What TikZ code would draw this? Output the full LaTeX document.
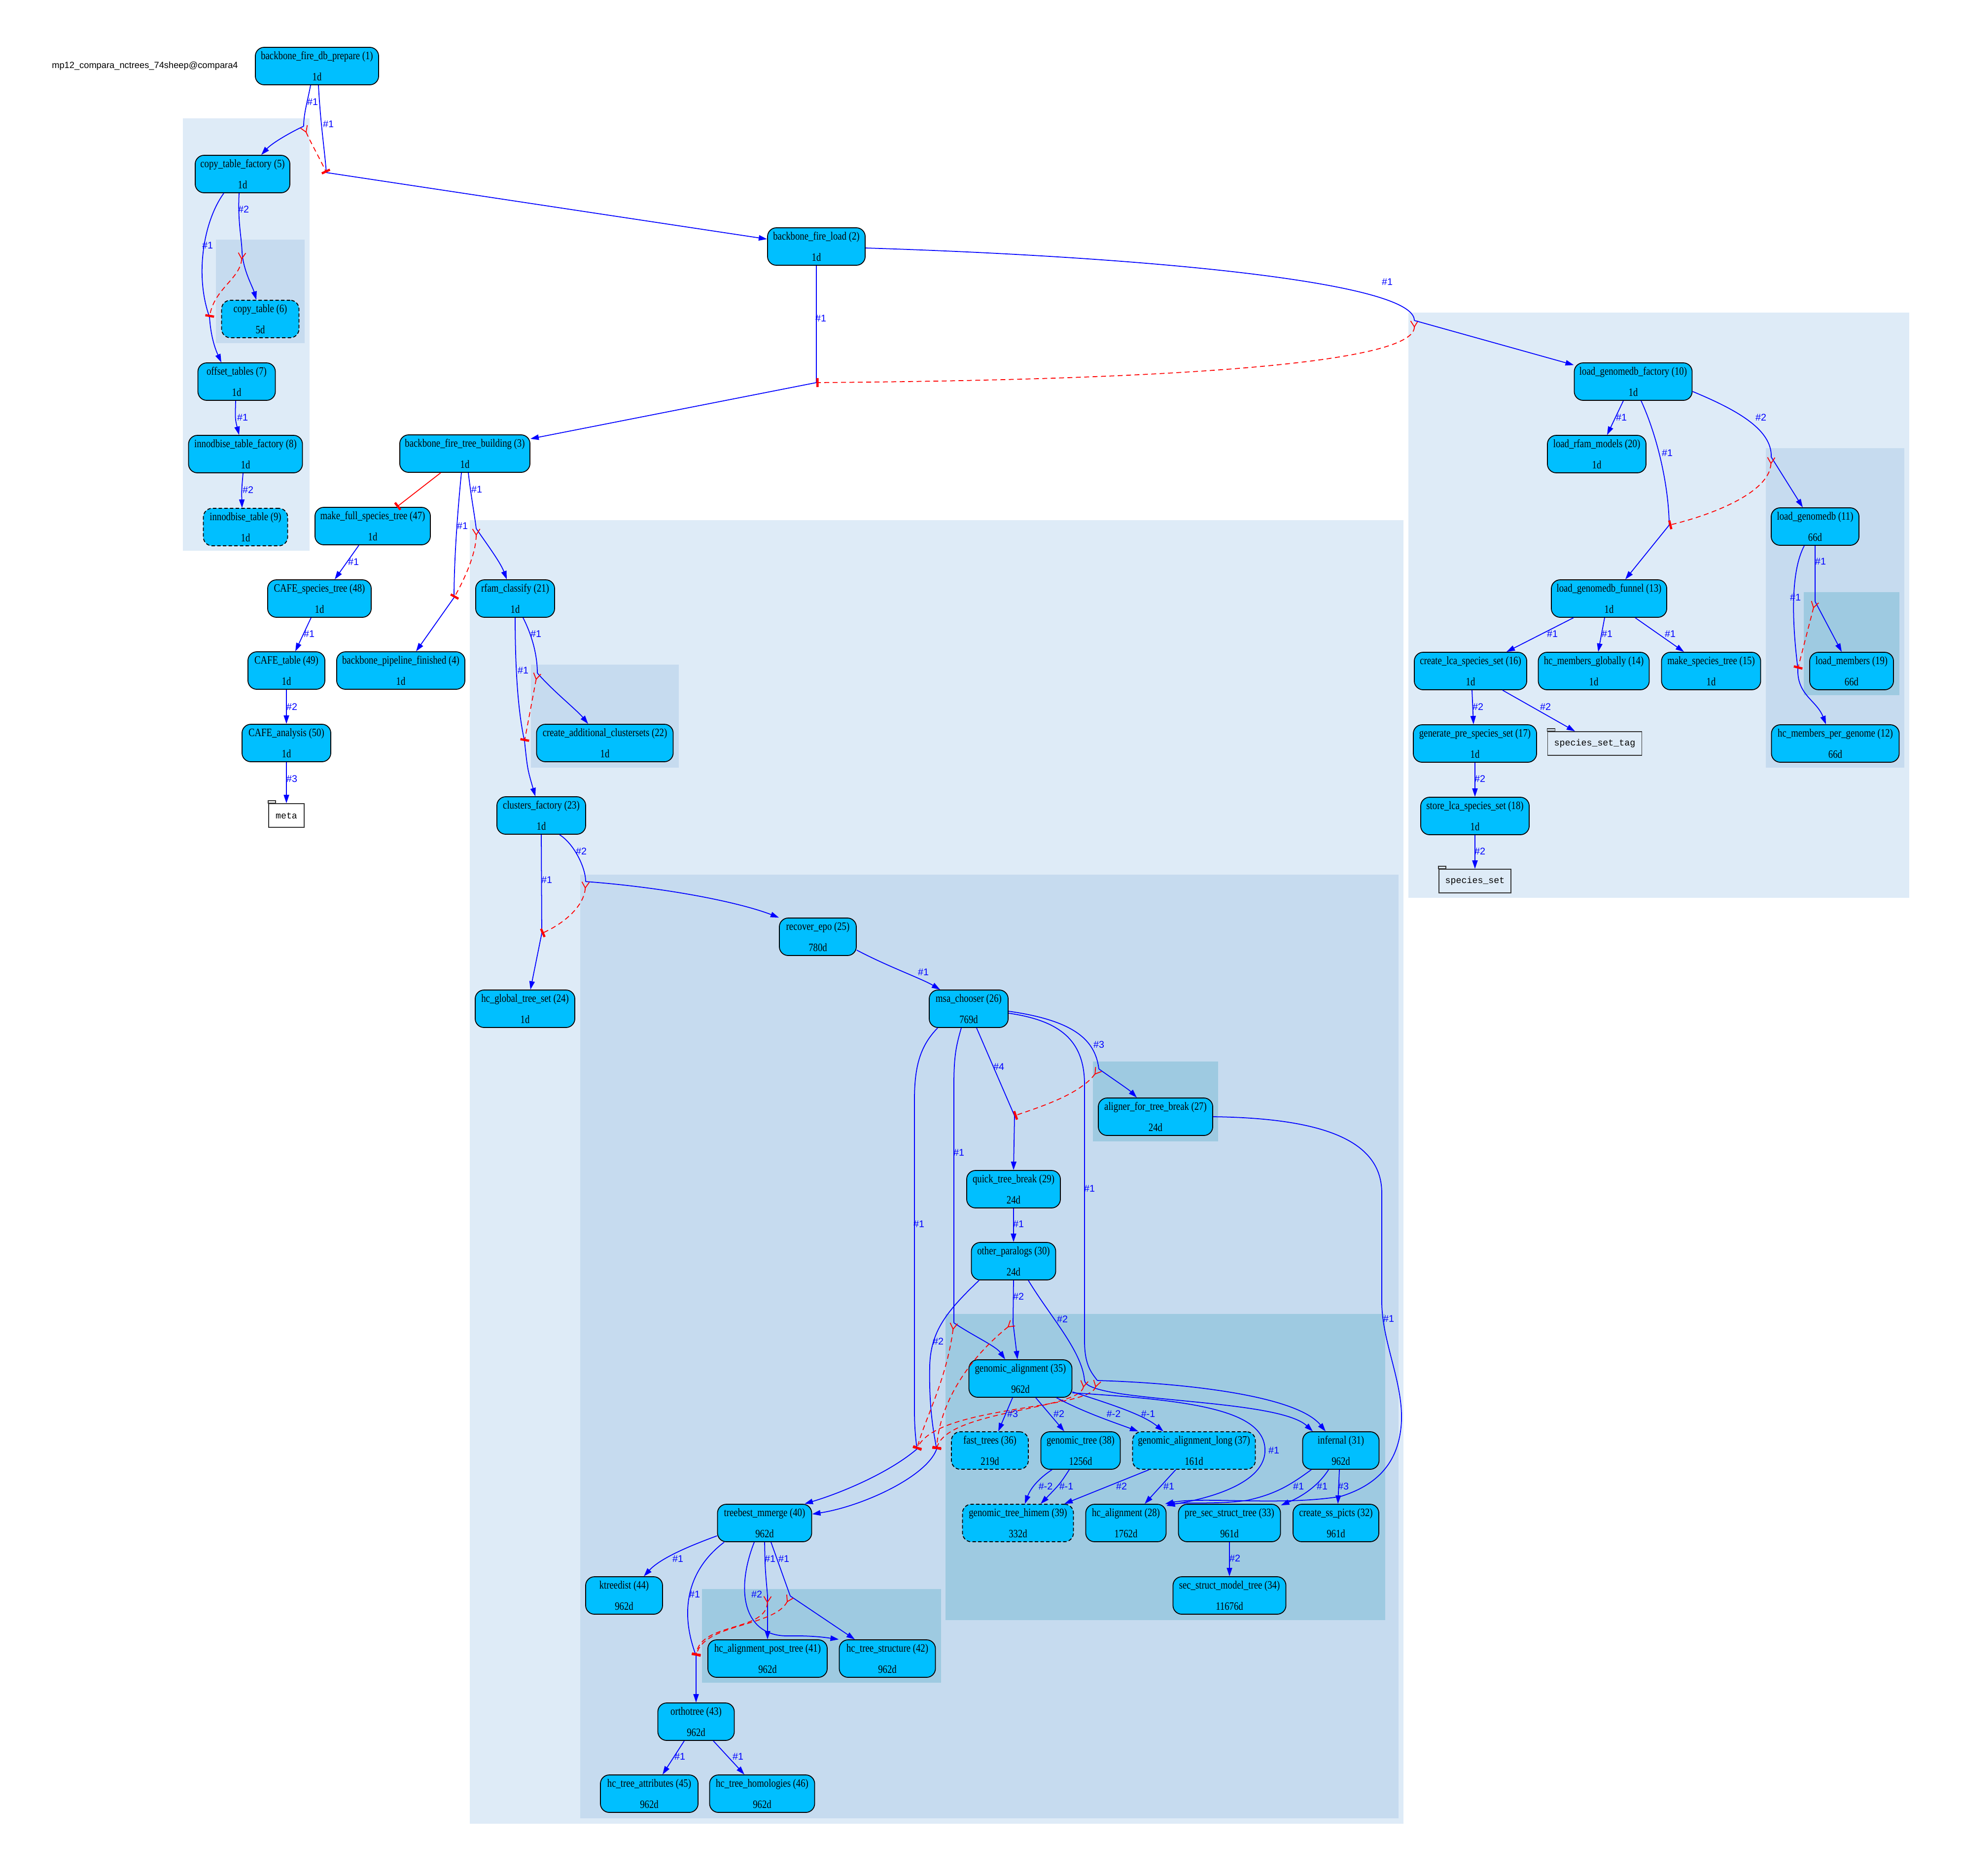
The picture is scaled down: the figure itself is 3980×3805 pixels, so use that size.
\documentclass[tikz,border=0pt]{standalone}
\usepackage{fontspec}
\setmainfont{Liberation Serif}
\newfontfamily\taskfamily[FakeStretch=0.82]{Liberation Serif}
\newfontfamily\labelfamily{Liberation Sans}
\newfontfamily\tablefamily{Liberation Mono}
\usetikzlibrary{arrows.meta}
\definecolor{taskfill}{HTML}{00BFFF}
\definecolor{grpA}{HTML}{DEEBF7}
\definecolor{grpB}{HTML}{C6DBEF}
\definecolor{grpC}{HTML}{9ECAE1}
\definecolor{flowblue}{HTML}{0000FF}
\definecolor{semared}{HTML}{FF0000}
\definecolor{tableedge}{HTML}{333333}
\newcommand{\taskfont}{\taskfamily\fontsize{6.5}{6.6}\selectfont}
\newcommand{\lblfont}{\labelfamily\fontsize{5.6}{6.4}\selectfont}
\newcommand{\ttlfont}{\labelfamily\fontsize{5.2}{6}\selectfont}
\newcommand{\tblfont}{\tablefamily\fontsize{5.2}{6}\selectfont}
\newcommand{\tx}[2]{#1\\[5.6pt]#2}

\begin{document}
\begin{tikzpicture}[x=0.01cm, y=-0.01cm,
  task/.style={draw=black, line width=0.5pt, fill=taskfill, rounded corners=0.18cm,
    minimum height=0.76cm, inner sep=0pt, align=center, font=\taskfont},
  dtask/.style={task, dash pattern=on 0.07cm off 0.045cm},
  tblbox/.style={draw=tableedge, line width=0.45pt, minimum height=0.48cm, inner sep=0pt, font=\tblfont},
  tabtop/.style={draw=tableedge, line width=0.45pt},
  flow/.style={draw=flowblue, line width=0.5pt},
  flowto/.style={flow, -{Triangle[length=0.17cm, width=0.11cm]}},
  sema/.style={draw=semared, line width=0.5pt, dash pattern=on 0.1cm off 0.07cm,
    {Straight Barb[reversed, length=0.12cm, width=0.15cm, line width=0.5pt]}-{Bar[width=0.18cm, line width=1.3pt]}},
  waitfor/.style={draw=semared, line width=0.5pt, -{Bar[width=0.18cm, line width=1.3pt]}},
  lbl/.style={font=\lblfont, text=flowblue, inner sep=0pt},
  heading/.style={font=\ttlfont, inner sep=0pt}
]
\fill[white] (0,0) rectangle (3980,3805);
\useasboundingbox (0,0) rectangle (3980,3805);

% analysis groups
\fill[grpA] (371,240) rectangle (628,1117);
\fill[grpB] (438,486) rectangle (618,696);
\fill[grpA] (2857,634) rectangle (3873,1821);
\fill[grpB] (3582,909) rectangle (3863,1557);
\fill[grpC] (3659,1201) rectangle (3853,1410);
\fill[grpA] (953,1055) rectangle (2847,3699);
\fill[grpB] (1077,1348) rectangle (1377,1557);
\fill[grpB] (1177,1774) rectangle (2837,3688);
\fill[grpC] (2217,2153) rectangle (2471,2315);
\fill[grpC] (1918,2665) rectangle (2810,3286);
\fill[grpC] (1424,3223) rectangle (1909,3413);

% analyses
\node[heading] (title) at (294,134) {mp12\_compara\_nctrees\_74sheep@compara4};
\node[task, minimum width=2.50cm] (n1) at (643,134) {\tx{backbone\_fire\_db\_prepare (1)}{1d}};
\node[task, minimum width=1.98cm] (n2) at (1656,500) {\tx{backbone\_fire\_load (2)}{1d}};
\node[task, minimum width=2.64cm] (n3) at (943,920) {\tx{backbone\_fire\_tree\_building (3)}{1d}};
\node[task, minimum width=2.60cm] (n4) at (813,1360) {\tx{backbone\_pipeline\_finished (4)}{1d}};
\node[task, minimum width=1.92cm] (n5) at (492,353) {\tx{copy\_table\_factory (5)}{1d}};
\node[dtask, minimum width=1.57cm] (n6) at (528,647) {\tx{copy\_table (6)}{5d}};
\node[task, minimum width=1.57cm] (n7) at (480,774) {\tx{offset\_tables (7)}{1d}};
\node[task, minimum width=2.31cm] (n8) at (498,921) {\tx{innodbise\_table\_factory (8)}{1d}};
\node[dtask, minimum width=1.71cm] (n9) at (498,1069) {\tx{innodbise\_table (9)}{1d}};
\node[task, minimum width=2.39cm] (n10) at (3313,774) {\tx{load\_genomedb\_factory (10)}{1d}};
\node[task, minimum width=1.78cm] (n11) at (3682,1068) {\tx{load\_genomedb (11)}{66d}};
\node[task, minimum width=2.59cm] (n12) at (3723,1508) {\tx{hc\_members\_per\_genome (12)}{66d}};
\node[task, minimum width=2.34cm] (n13) at (3264,1214) {\tx{load\_genomedb\_funnel (13)}{1d}};
\node[task, minimum width=2.25cm] (n14) at (3233,1361) {\tx{hc\_members\_globally (14)}{1d}};
\node[task, minimum width=2.01cm] (n15) at (3471,1361) {\tx{make\_species\_tree (15)}{1d}};
\node[task, minimum width=2.28cm] (n16) at (2983,1361) {\tx{create\_lca\_species\_set (16)}{1d}};
\node[task, minimum width=2.50cm] (n17) at (2992,1508) {\tx{generate\_pre\_species\_set (17)}{1d}};
\node[task, minimum width=2.20cm] (n18) at (2992,1655) {\tx{store\_lca\_species\_set (18)}{1d}};
\node[task, minimum width=1.70cm] (n19) at (3756,1361) {\tx{load\_members (19)}{66d}};
\node[task, minimum width=2.00cm] (n20) at (3239,921) {\tx{load\_rfam\_models (20)}{1d}};
\node[task, minimum width=1.60cm] (n21) at (1045,1214) {\tx{rfam\_classify (21)}{1d}};
\node[task, minimum width=2.77cm] (n22) at (1227,1507) {\tx{create\_additional\_clustersets (22)}{1d}};
\node[task, minimum width=1.80cm] (n23) at (1098,1654) {\tx{clusters\_factory (23)}{1d}};
\node[task, minimum width=2.02cm] (n24) at (1065,2046) {\tx{hc\_global\_tree\_set (24)}{1d}};
\node[task, minimum width=1.56cm] (n25) at (1659,1900) {\tx{recover\_epo (25)}{780d}};
\node[task, minimum width=1.60cm] (n26) at (1965,2046) {\tx{msa\_chooser (26)}{769d}};
\node[task, minimum width=2.32cm] (n27) at (2344,2265) {\tx{aligner\_for\_tree\_break (27)}{24d}};
\node[task, minimum width=1.63cm] (n28) at (2284,3089) {\tx{hc\_alignment (28)}{1762d}};
\node[task, minimum width=1.90cm] (n29) at (2056,2412) {\tx{quick\_tree\_break (29)}{24d}};
\node[task, minimum width=1.71cm] (n30) at (2056,2558) {\tx{other\_paralogs (30)}{24d}};
\node[task, minimum width=1.55cm] (n31) at (2720,2942) {\tx{infernal (31)}{962d}};
\node[task, minimum width=1.74cm] (n32) at (2710,3089) {\tx{create\_ss\_picts (32)}{961d}};
\node[task, minimum width=2.07cm] (n33) at (2494,3089) {\tx{pre\_sec\_struct\_tree (33)}{961d}};
\node[task, minimum width=2.29cm] (n34) at (2494,3236) {\tx{sec\_struct\_model\_tree (34)}{11676d}};
\node[task, minimum width=2.09cm] (n35) at (2070,2796) {\tx{genomic\_alignment (35)}{962d}};
\node[dtask, minimum width=1.56cm] (n36) at (2008,2942) {\tx{fast\_trees (36)}{219d}};
\node[dtask, minimum width=2.49cm] (n37) at (2422,2942) {\tx{genomic\_alignment\_long (37)}{161d}};
\node[task, minimum width=1.61cm] (n38) at (2192,2942) {\tx{genomic\_tree (38)}{1256d}};
\node[dtask, minimum width=2.25cm] (n39) at (2065,3089) {\tx{genomic\_tree\_himem (39)}{332d}};
\node[task, minimum width=1.91cm] (n40) at (1551,3089) {\tx{treebest\_mmerge (40)}{962d}};
\node[task, minimum width=2.42cm] (n41) at (1557,3364) {\tx{hc\_alignment\_post\_tree (41)}{962d}};
\node[task, minimum width=1.95cm] (n42) at (1800,3364) {\tx{hc\_tree\_structure (42)}{962d}};
\node[task, minimum width=1.55cm] (n43) at (1412,3492) {\tx{orthotree (43)}{962d}};
\node[task, minimum width=1.56cm] (n44) at (1266,3236) {\tx{ktreedist (44)}{962d}};
\node[task, minimum width=1.98cm] (n45) at (1317,3638) {\tx{hc\_tree\_attributes (45)}{962d}};
\node[task, minimum width=2.13cm] (n46) at (1546,3638) {\tx{hc\_tree\_homologies (46)}{962d}};
\node[task, minimum width=2.34cm] (n47) at (756,1067) {\tx{make\_full\_species\_tree (47)}{1d}};
\node[task, minimum width=2.10cm] (n48) at (648,1214) {\tx{CAFE\_species\_tree (48)}{1d}};
\node[task, minimum width=1.56cm] (n49) at (581,1360) {\tx{CAFE\_table (49)}{1d}};
\node[task, minimum width=1.80cm] (n50) at (581,1507) {\tx{CAFE\_analysis (50)}{1d}};

% tables
\node[tblbox, minimum width=0.72cm] (meta) at (581,1654) {meta};
\node[tblbox, minimum width=1.91cm] (sst) at (3235,1508) {species\_set\_tag};
\node[tblbox, minimum width=1.46cm] (ss) at (2992,1787) {species\_set};
\draw[tabtop] (meta.north west) rectangle ++(0.15cm,0.055cm);
\draw[tabtop] (sst.north west) rectangle ++(0.16cm,0.055cm);
\draw[tabtop] (ss.north west) rectangle ++(0.15cm,0.055cm);

% fan / funnel junctions
\coordinate (p1a) at (616,256);
\coordinate (p1b) at (662,350);
\coordinate (p5a) at (491,512);
\coordinate (p5b) at (425,643);
\coordinate (p2a) at (2869,650);
\coordinate (p2b) at (1656,776);
\coordinate (p3a) at (966,1072);
\coordinate (p3b) at (921,1212);
\coordinate (p10a) at (3386,1065);
\coordinate (p10b) at (3593,927);
\coordinate (p11a) at (3682,1220);
\coordinate (p11b) at (3647,1356);
\coordinate (p21a) at (1090,1365);
\coordinate (p21b) at (1064,1503);
\coordinate (p23a) at (1188,1788);
\coordinate (p23b) at (1099,1893);
\coordinate (p26b) at (2229,2168);
\coordinate (p26c) at (2058,2263);
\coordinate (p26d) at (1935,2683);
\coordinate (p26e) at (2226,2800);
\coordinate (p30a) at (2055,2683);
\coordinate (p30b) at (2200,2800);
\coordinate (p40a) at (1860,2939);
\coordinate (p40b) at (1900,2939);
\coordinate (p40c) at (1412,3358);
\coordinate (p40d) at (1557,3237);
\coordinate (p40e) at (1603,3237);

% backbone and table copying
\draw[flow] ([shift={(-13,0)}]n1.south) .. controls (624,205) and (616,230) .. (p1a);
\draw[flow] ([shift={(3,0)}]n1.south) .. controls (650,250) and (658,300) .. (p1b);
\draw[flowto] (p1a) .. controls (590,268) and (552,290) .. ([shift={(38,0)}]n5.north);
\draw[flowto] (p1b) -- (n2);
\draw[sema] (p1a) .. controls (628,285) and (648,320) .. (p1b);
\node[lbl] (la1) at (634,207) {\#1};
\node[lbl] (la2) at (666,252) {\#1};

\draw[flow] ([shift={(-7,0)}]n5.south) .. controls (482,450) and (490,480) .. (p5a);
\draw[flowto] (p5a) .. controls (494,550) and (512,580) .. ([shift={(-8,0)}]n6.north);
\draw[flow] ([shift={(-38,0)}]n5.south) .. controls (412,450) and (395,560) .. (p5b);
\draw[flowto] (p5b) .. controls (428,690) and (440,715) .. ([shift={(-31,0)}]n7.north);
\draw[sema] (p5a) .. controls (488,565) and (435,585) .. (p5b);
\node[lbl] (la3) at (494,425) {\#2};
\node[lbl] (la4) at (421,498) {\#1};
\draw[flowto] ([shift={(-2,0)}]n7.south) .. controls (477,850) .. ([shift={(-13,0)}]n8.north);
\node[lbl] (la5) at (492,847) {\#1};
\draw[flowto] ([shift={(-5,0)}]n8.south) .. controls (490,995) .. ([shift={(-7,0)}]n9.north);
\node[lbl] (la6) at (503,994) {\#2};

\draw[flow] ([shift={(0,3)}]n2.east) .. controls (2300,520) and (2870,570) .. (p2a);
\node[lbl] (la7) at (2814,572) {\#1};
\draw[flow] (n2.south) -- (p2b);
\node[lbl] (la8) at (1665,646) {\#1};
\draw[flowto] (p2b) -- ([shift={(0,-30)}]n3.east);
\draw[sema] (p2a) .. controls (2870,750) and (2200,772) .. (p2b);
\draw[flowto] (p2a) -- (n10);

\draw[waitfor] ([shift={(-49,0)}]n3.south) -- ([shift={(49,0)}]n47.north);
\draw[flow] ([shift={(7,0)}]n3.south) .. controls (956,1010) and (962,1040) .. (p3a);
\node[lbl] (la9) at (967,993) {\#1};
\draw[flow] ([shift={(-7,0)}]n3.south) .. controls (926,1060) and (921,1150) .. (p3b);
\node[lbl] (la10) at (938,1067) {\#1};
\draw[flowto] (p3a) .. controls (985,1100) and (1015,1140) .. ([shift={(-17,0)}]n21.north);
\draw[flowto] (p3b) -- ([shift={(31,0)}]n4.north);
\draw[sema] (p3a) .. controls (966,1120) and (945,1170) .. (p3b);

\draw[flowto] ([shift={(-28,0)}]n47.south) -- ([shift={(31,0)}]n48.north);
\node[lbl] (la11) at (717,1140) {\#1};
\draw[flowto] ([shift={(-17,0)}]n48.south) -- ([shift={(18,0)}]n49.north);
\node[lbl] (la12) at (627,1286) {\#1};
\draw[flowto] (n49.south) -- (n50.north);
\node[lbl] (la13) at (592,1434) {\#2};
\draw[flowto] (n50.south) -- (meta.north);
\node[lbl] (la14) at (592,1580) {\#3};

% genome loading
\draw[flowto] ([shift={(-20,0)}]n10.south) -- ([shift={(21,0)}]n20.north);
\node[lbl] (la15) at (3289,847) {\#1};
\draw[flow] ([shift={(16,0)}]n10.south) .. controls (3360,880) and (3385,980) .. (p10a);
\node[lbl] (la16) at (3382,919) {\#1};
\draw[flowto] (p10a) -- ([shift={(33,0)}]n13.north);
\draw[flow] ([shift={(0,20)}]n10.east) .. controls (3520,830) and (3595,870) .. (p10b);
\node[lbl] (la17) at (3572,847) {\#2};
\draw[flowto] (p10b) -- ([shift={(-25,0)}]n11.north);
\draw[sema] (p10b) .. controls (3590,1000) and (3470,1045) .. (p10a);

\draw[flow] (n11.south) -- (p11a);
\node[lbl] (la18) at (3693,1139) {\#1};
\draw[flowto] (p11a) -- ([shift={(-20,0)}]n19.north);
\draw[flow] ([shift={(-22,0)}]n11.south) .. controls (3632,1160) and (3635,1260) .. (p11b);
\node[lbl] (la19) at (3642,1212) {\#1};
\draw[flowto] (p11b) .. controls (3645,1410) and (3685,1420) .. ([shift={(-19,0)}]n12.north);
\draw[sema] (p11a) -- (p11b);

\draw[flowto] ([shift={(-72,0)}]n13.south) -- ([shift={(73,0)}]n16.north);
\node[lbl] (la20) at (3149,1286) {\#1};
\draw[flowto] ([shift={(-9,0)}]n13.south) -- ([shift={(9,0)}]n14.north);
\node[lbl] (la21) at (3260,1286) {\#1};
\draw[flowto] ([shift={(53,0)}]n13.south) -- ([shift={(-55,0)}]n15.north);
\node[lbl] (la22) at (3388,1286) {\#1};
\draw[flowto] ([shift={(3,0)}]n16.south) -- ([shift={(-3,0)}]n17.north);
\node[lbl] (la23) at (2998,1434) {\#2};
\draw[flowto] ([shift={(65,0)}]n16.south) -- ([shift={(-40,0)}]sst.north);
\node[lbl] (la24) at (3135,1434) {\#2};
\draw[flowto] (n17.south) -- (n18.north);
\node[lbl] (la25) at (3002,1580) {\#2};
\draw[flowto] (n18.south) -- (ss.north);
\node[lbl] (la26) at (3002,1727) {\#2};

% clustering
\draw[flow] ([shift={(16,0)}]n21.south) .. controls (1080,1290) and (1090,1330) .. (p21a);
\node[lbl] (la27) at (1087,1286) {\#1};
\draw[flowto] (p21a) .. controls (1120,1400) and (1170,1440) .. ([shift={(-34,0)}]n22.north);
\draw[flow] (n21.south) .. controls (1045,1350) and (1050,1440) .. (p21b);
\node[lbl] (la28) at (1061,1360) {\#1};
\draw[flowto] (p21b) .. controls (1070,1560) .. ([shift={(-12,0)}]n23.north);
\draw[sema] (p21a) -- (p21b);

\draw[flow] ([shift={(37,0)}]n23.south) .. controls (1165,1712) and (1188,1760) .. (p23a);
\node[lbl] (la29) at (1179,1727) {\#2};
\draw[flow] (n23.south) -- (p23b);
\node[lbl] (la30) at (1109,1785) {\#1};
\draw[flowto] (p23b) -- ([shift={(11,0)}]n24.north);
\draw[sema] (p23a) .. controls (1185,1840) and (1140,1875) .. (p23b);
\draw[flowto] (p23a) .. controls (1350,1800) and (1500,1830) .. (n25.north west);

% tree building
\draw[flowto] ([shift={(0,27)}]n25.east) .. controls (1800,1960) and (1870,1985) .. ([shift={(-58,0)}]n26.north);
\node[lbl] (la31) at (1873,1972) {\#1};
\draw[flow] ([shift={(-63,0)}]n26.south) .. controls (1868,2120) and (1855,2160) .. (1855,2230)
  -- (1855,2860) .. controls (1855,2900) and (1858,2920) .. (p40a);
\node[lbl] (la32) at (1864,2483) {\#1};
\draw[flow] ([shift={(-15,0)}]n26.south) .. controls (1940,2120) and (1935,2140) .. (1935,2200) -- (p26d);
\node[lbl] (la33) at (1945,2338) {\#1};
\draw[flow] ([shift={(16,0)}]n26.south) -- (p26c);
\node[lbl] (la34) at (2026,2164) {\#4};
\draw[flowto] (p26c) -- (n29.north);
\draw[flow] ([shift={(0,9)}]n26.east) .. controls (2150,2070) and (2200,2110) .. (2200,2200)
  -- (2200,2720) .. controls (2200,2770) and (2215,2785) .. (p26e);
\node[lbl] (la35) at (2210,2411) {\#1};
\draw[flow] ([shift={(0,5)}]n26.east) .. controls (2180,2070) and (2222,2110) .. (p26b);
\node[lbl] (la36) at (2229,2119) {\#3};
\draw[flowto] (p26b) .. controls (2260,2190) and (2290,2210) .. ([shift={(-38,0)}]n27.north);
\draw[sema] (p26b) .. controls (2190,2220) and (2110,2245) .. (p26c);

\draw[flowto] (n27.east) .. controls (2700,2268) and (2803,2320) .. (2803,2420)
  -- (2803,2640) .. controls (2803,2720) and (2845,2800) .. (2843,2880)
  .. controls (2840,2960) and (2800,3010) .. (2720,3035)
  .. controls (2600,3055) and (2440,3035) .. ([shift={(-3,0)}]n28.north east);
\node[lbl] (la37) at (2817,2675) {\#1};

\draw[flowto] (n29.south) -- (n30.north);
\node[lbl] (la38) at (2066,2483) {\#1};
\draw[flow] ([shift={(-70,0)}]n30.south) .. controls (1920,2660) and (1888,2700) .. (1886,2770)
  .. controls (1884,2860) and (1895,2910) .. (p40b);
\node[lbl] (la39) at (1903,2721) {\#2};
\draw[flow] (n30.south) -- (p30a);
\node[lbl] (la40) at (2066,2630) {\#2};
\draw[flow] ([shift={(30,0)}]n30.south) .. controls (2130,2670) and (2195,2740) .. (p30b);
\node[lbl] (la41) at (2155,2676) {\#2};

\draw[flowto] (p30a) -- ([shift={(-6,0)}]n35.north);
\draw[flowto] (p26d) .. controls (1975,2710) and (2020,2730) .. ([shift={(-31,0)}]n35.north);
\draw[flowto] (p26e) .. controls (2400,2805) and (2630,2830) .. ([shift={(-31,0)}]n31.north);
\draw[flowto] (p30b) .. controls (2205,2845) and (2590,2835) .. ([shift={(-57,0)}]n31.north);

\draw[sema] (p26d) .. controls (1920,2800) and (1875,2880) .. (p40a);
\draw[sema] (p30a) .. controls (1960,2760) and (1905,2850) .. (p40b);
\draw[sema] (p26e) .. controls (2210,2860) and (1900,2850) .. (p40a);
\draw[sema] (p30b) .. controls (2190,2860) and (1920,2860) .. (p40b);

% alignment group
\draw[flowto] ([shift={(0,29)}]n35.east) .. controls (2420,2840) and (2570,2860) .. (2566,2945)
  .. controls (2562,3010) and (2450,3040) .. ([shift={(0,3)}]n28.north east);
\node[lbl] (la42) at (2584,2942) {\#1};
\draw[flowto] ([shift={(-16,0)}]n35.south) -- ([shift={(17,0)}]n36.north);
\node[lbl] (la43) at (2054,2868) {\#3};
\draw[flowto] ([shift={(31,0)}]n35.south) -- ([shift={(-33,0)}]n38.north);
\node[lbl] (la44) at (2148,2868) {\#2};
\draw[flowto] ([shift={(73,0)}]n35.south) .. controls (2200,2865) and (2260,2885) .. ([shift={(-113,0)}]n37.north);
\node[lbl] (la45) at (2259,2868) {\#-2};
\draw[flowto] ([shift={(0,27)}]n35.east) .. controls (2260,2850) and (2320,2870) .. ([shift={(-62,0)}]n37.north);
\node[lbl] (la46) at (2329,2868) {\#-1};
\draw[flowto] ([shift={(-58,0)}]n38.south) .. controls (2105,3000) and (2090,3020) .. ([shift={(14,0)}]n39.north);
\node[lbl] (la47) at (2121,3015) {\#-2};
\draw[flowto] ([shift={(-23,0)}]n38.south) .. controls (2150,3010) .. ([shift={(46,0)}]n39.north);
\node[lbl] (la48) at (2163,3015) {\#-1};
\draw[flowto] ([shift={(-91,0)}]n37.south) -- ([shift={(94,0)}]n39.north);
\node[lbl] (la49) at (2275,3015) {\#2};
\draw[flowto] ([shift={(-37,0)}]n37.south) -- ([shift={(38,0)}]n28.north);
\node[lbl] (la50) at (2371,3015) {\#1};
\draw[flowto] ([shift={(-60,0)}]n31.south) .. controls (2620,3010) and (2590,3030) .. (2530,3043)
  .. controls (2470,3052) and (2400,3046) .. ([shift={(0,4)}]n28.north east);
\node[lbl] (la51) at (2634,3015) {\#1};
\draw[flowto] ([shift={(-25,0)}]n31.south) .. controls (2670,3020) and (2630,3040) .. ([shift={(0,3)}]n33.north east);
\node[lbl] (la52) at (2682,3015) {\#1};
\draw[flowto] ([shift={(-3,0)}]n31.south) -- ([shift={(4,0)}]n32.north);
\node[lbl] (la53) at (2725,3015) {\#3};
\draw[flowto] (n33.south) -- (n34.north);
\node[lbl] (la54) at (2505,3161) {\#2};

% merging and homologies
\draw[flowto] (p40a) .. controls (1800,2990) and (1700,3030) .. ([shift={(81,0)}]n40.north);
\draw[flowto] (p40b) .. controls (1880,2995) and (1750,3055) .. ([shift={(0,-18)}]n40.east);
\draw[flowto] ([shift={(0,26)}]n40.west) .. controls (1400,3135) and (1340,3160) .. ([shift={(40,0)}]n44.north);
\node[lbl] (la55) at (1375,3162) {\#1};
\draw[flow] ([shift={(-82,0)}]n40.south) .. controls (1400,3180) and (1375,3260) .. (p40c);
\node[lbl] (la56) at (1409,3234) {\#1};
\draw[flowto] (p40c) -- (n43.north);
\draw[flowto] ([shift={(-21,0)}]n40.south) .. controls (1490,3230) and (1510,3320) .. (1600,3318)
  .. controls (1650,3317) and (1680,3322) .. (n42.north west);
\node[lbl] (la57) at (1535,3234) {\#2};
\draw[flow] (n40.south) .. controls (1552,3180) .. (p40d);
\node[lbl] (la58) at (1562,3162) {\#1};
\draw[flowto] (p40d) -- (n41.north);
\draw[flow] ([shift={(13,0)}]n40.south) -- (p40e);
\node[lbl] (la59) at (1590,3162) {\#1};
\draw[flowto] (p40e) -- ([shift={(-66,0)}]n42.north);
\draw[sema] (p40d) .. controls (1555,3310) and (1420,3290) .. (p40c);
\draw[sema] (p40e) .. controls (1570,3300) and (1430,3292) .. (p40c);
\draw[flowto] ([shift={(-24,0)}]n43.south) -- ([shift={(27,0)}]n45.north);
\node[lbl] (la60) at (1379,3563) {\#1};
\draw[flowto] ([shift={(35,0)}]n43.south) -- ([shift={(-36,0)}]n46.north);
\node[lbl] (la61) at (1497,3563) {\#1};
\end{tikzpicture}
\end{document}
